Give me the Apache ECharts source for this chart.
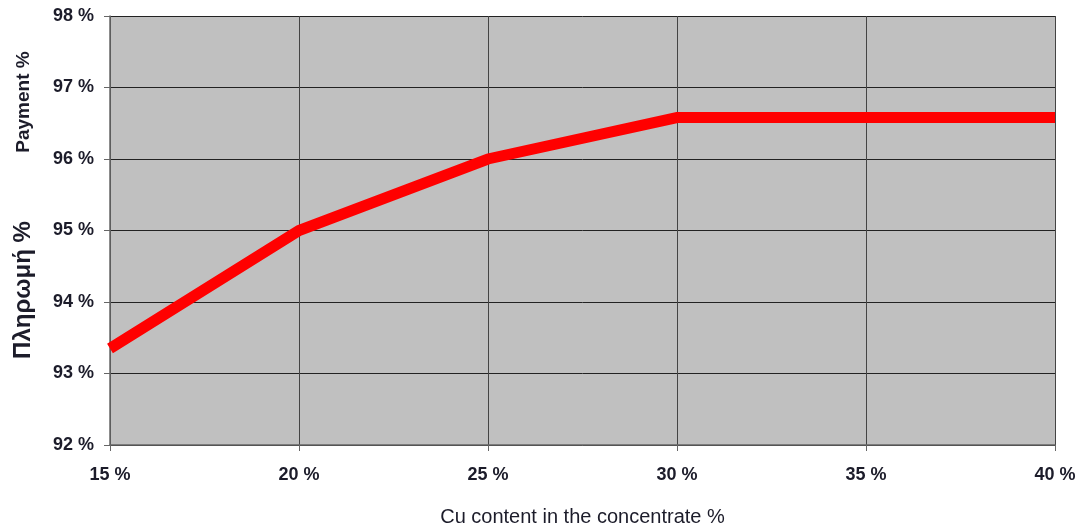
<!DOCTYPE html>
<html>
<head>
<meta charset="utf-8">
<script src="https://cdn.jsdelivr.net/npm/echarts@6/dist/echarts.min.js"></script>
<style>
  html, body { margin: 0; padding: 0; background: #ffffff; }
  #chart { width: 1081px; height: 526px; }
</style>
</head>
<body>
<div id="chart"></div>
<script>
// Cu content in concentrate (%) and corresponding payment (%)
const cuContent = [15, 20, 25, 30, 35, 40];
const payment = [93.35, 95.0, 96.0, 96.58, 96.58, 96.58];

const xTitle = 'Cu content in the concentrate %';
const yTitleEn = 'Payment %';
const yTitleGr = 'Πληρωμή %';

const chart = echarts.init(document.getElementById('chart'));
const FONT = '"Liberation Sans", Arial, sans-serif';
const labelFont = {
  fontFamily: FONT,
  fontWeight: 'bold',
  fontSize: 18,
  color: '#1c1c2a'
};

chart.setOption({
  animation: false,
  grid: {
    left: 110, right: 26, top: 16, bottom: 81,
    outerBoundsMode: 'none',
    containLabel: false,
    show: true, backgroundColor: '#c0c0c0', borderWidth: 0
  },
  xAxis: {
    type: 'value',
    min: 15, max: 40, interval: 5,
    axisLine: { show: true, lineStyle: { color: '#666', width: 1.5 } },
    axisTick: { show: true, length: 6, inside: false, lineStyle: { color: '#666' } },
    splitLine: { show: true, lineStyle: { color: '#444', width: 1 } },
    axisLabel: Object.assign({ margin: 21, formatter: v => v + ' %' }, labelFont),
    name: xTitle,
    nameLocation: 'middle',
    nameGap: 62,
    nameTextStyle: { fontFamily: FONT, fontSize: 20, color: '#1c1c2a' }
  },
  yAxis: {
    type: 'value',
    min: 92, max: 98, interval: 1,
    axisLine: { show: true, lineStyle: { color: '#666', width: 1.5 } },
    axisTick: { show: true, length: 6, inside: false, lineStyle: { color: '#666' } },
    splitLine: { show: true, lineStyle: { color: '#222', width: 1 } },
    axisLabel: Object.assign({ margin: 16, formatter: v => v + ' %' }, labelFont)
  },
  graphic: [
    {
      type: 'text', rotation: Math.PI / 2, position: [24, 102],
      style: {
        text: yTitleEn, x: 0, y: 0,
        font: 'bold 19px ' + FONT,
        fill: '#1c1c2a', align: 'center', verticalAlign: 'middle'
      }
    },
    {
      type: 'text', rotation: Math.PI / 2, position: [23, 290],
      style: {
        text: yTitleGr, x: 0, y: 0,
        font: 'bold 24px ' + FONT,
        fill: '#1c1c2a', align: 'center', verticalAlign: 'middle'
      }
    }
  ],
  series: [{
    type: 'line',
    data: cuContent.map((x, i) => [x, payment[i]]),
    symbol: 'none',
    lineStyle: { color: '#ff0000', width: 11, cap: 'butt', join: 'miter' },
    clip: true
  }]
});
</script>
</body>
</html>
